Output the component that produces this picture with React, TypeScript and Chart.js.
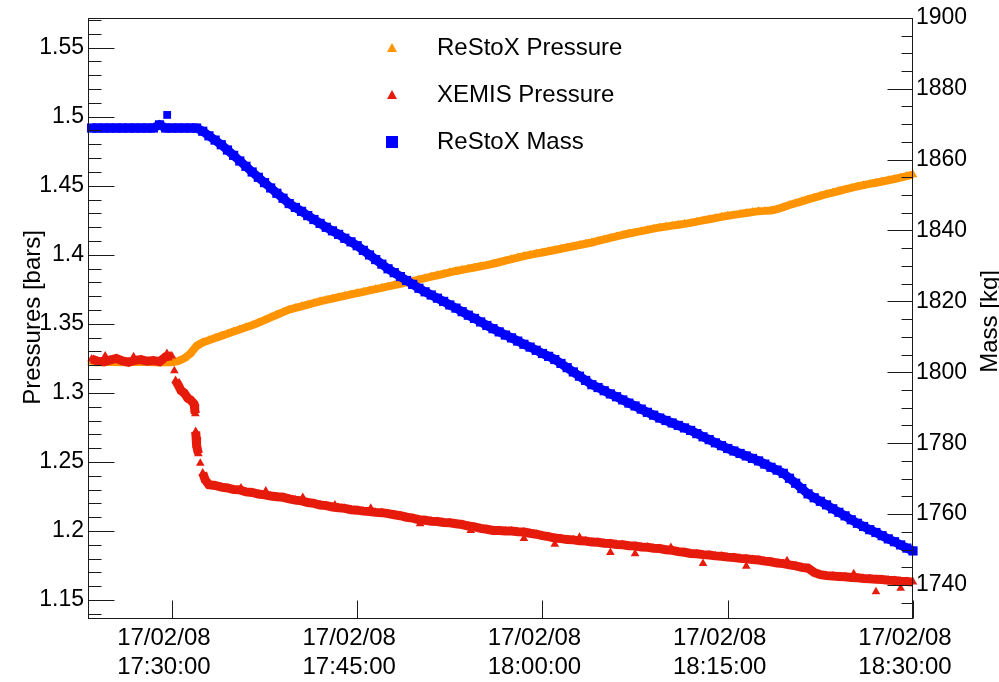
import React, { useEffect, useRef } from 'react';
import { Chart, registerables } from 'chart.js';

Chart.register(...registerables);

// ---------- data ----------
const DATE_LABEL = '17/02/08';
const BASE_HOUR = 17; // x values are minutes after 17:00:00
const SAMPLE_START = 23.5; // first logged sample (minutes after 17:00)
const SAMPLE_STEP = 0.5; // minutes between logged samples

const xTickMinutes = [30, 45, 60, 75, 90];
const xRange = [23.21, 90];

const pressureTicks = [1.15, 1.2, 1.25, 1.3, 1.35, 1.4, 1.45, 1.5, 1.55];
const pressureRange = [1.1363, 1.5716];
const massTicks = [1740, 1760, 1780, 1800, 1820, 1840, 1860, 1880, 1900];
const massRange = [1730.4, 1900];

const seriesLabels = ['ReStoX Pressure', 'XEMIS Pressure', 'ReStoX Mass'];
const pressureTitle = 'Pressures [bars]';
const massTitle = 'Mass [kg]';

// ReStoX pressure [bars]
const restoxPressure = [
  1.3223, 1.3222, 1.3224, 1.3223, 1.3224, 1.3222, 1.3224, 1.3223, 1.3224, 1.3223,
  1.3222, 1.3221, 1.3222, 1.3222, 1.3230, 1.3250, 1.3285, 1.3340, 1.3365, 1.3381,
  1.3397, 1.3413, 1.3428, 1.3444, 1.3459, 1.3475, 1.3490, 1.3508, 1.3527, 1.3547,
  1.3566, 1.3585, 1.3603, 1.3615, 1.3627, 1.3639, 1.3651, 1.3663, 1.3673, 1.3683,
  1.3693, 1.3703, 1.3713, 1.3723, 1.3732, 1.3742, 1.3752, 1.3761, 1.3771, 1.3781,
  1.3790, 1.3800, 1.3810, 1.3821, 1.3831, 1.3842, 1.3852, 1.3862, 1.3873, 1.3883,
  1.3891, 1.3900, 1.3908, 1.3917, 1.3925, 1.3935, 1.3946, 1.3957, 1.3968, 1.3980,
  1.3991, 1.4000, 1.4009, 1.4017, 1.4026, 1.4035, 1.4044, 1.4053, 1.4062, 1.4071,
  1.4080, 1.4089, 1.4100, 1.4111, 1.4122, 1.4133, 1.4144, 1.4154, 1.4162, 1.4171,
  1.4180, 1.4189, 1.4198, 1.4204, 1.4211, 1.4218, 1.4224, 1.4231, 1.4240, 1.4249,
  1.4257, 1.4266, 1.4275, 1.4283, 1.4289, 1.4296, 1.4303, 1.4309, 1.4316, 1.4318,
  1.4321, 1.4330, 1.4345, 1.4360, 1.4374, 1.4387, 1.4401, 1.4414, 1.4427, 1.4440,
  1.4451, 1.4462, 1.4473, 1.4484, 1.4495, 1.4504, 1.4513, 1.4522, 1.4531, 1.4540,
  1.4549, 1.4559, 1.4570, 1.4580,
];

// XEMIS pressure [bars]
const xemisPressure = [
  1.3245, 1.3230, 1.3225, 1.3238, 1.3250, 1.3232, 1.3222, 1.3236, 1.3241, 1.3229,
  1.3235, 1.3226, 1.3262, 1.3268, 1.3060, 1.3000, 1.2950, 1.2620, 1.2420, 1.2335,
  1.2330, 1.2318, 1.2312, 1.2300, 1.2298, 1.2283, 1.2279, 1.2268, 1.2262, 1.2254,
  1.2248, 1.2244, 1.2233, 1.2224, 1.2218, 1.2206, 1.2200, 1.2188, 1.2184, 1.2174,
  1.2168, 1.2164, 1.2154, 1.2151, 1.2144, 1.2141, 1.2135, 1.2133, 1.2126, 1.2118,
  1.2111, 1.2100, 1.2093, 1.2082, 1.2078, 1.2071, 1.2069, 1.2062, 1.2060, 1.2053,
  1.2047, 1.2036, 1.2030, 1.2019, 1.2013, 1.2004, 1.2004, 1.2000, 1.2000, 1.1995,
  1.1993, 1.1984, 1.1977, 1.1967, 1.1960, 1.1949, 1.1945, 1.1938, 1.1936, 1.1929,
  1.1927, 1.1920, 1.1918, 1.1911, 1.1909, 1.1902, 1.1900, 1.1894, 1.1891, 1.1885,
  1.1882, 1.1876, 1.1873, 1.1864, 1.1860, 1.1851, 1.1846, 1.1837, 1.1835, 1.1829,
  1.1826, 1.1820, 1.1817, 1.1811, 1.1808, 1.1802, 1.1799, 1.1793, 1.1790, 1.1782,
  1.1777, 1.1768, 1.1764, 1.1755, 1.1748, 1.1737, 1.1731, 1.1700, 1.1684, 1.1677,
  1.1675, 1.1670, 1.1669, 1.1663, 1.1662, 1.1657, 1.1655, 1.1650, 1.1649, 1.1643,
  1.1642, 1.1637, 1.1635, 1.1630,
];

// extra XEMIS samples logged during the fast pressure drop
const xemisTransientTimes = [30.2, 30.3, 30.75, 31.3, 31.8, 31.85, 31.9, 31.93, 31.96, 32.15, 32.3, 32.7];
const xemisTransientValues = [1.316, 1.309, 1.3016, 1.296, 1.292, 1.288, 1.285, 1.272, 1.268, 1.256, 1.249, 1.237];

// isolated XEMIS readings off the main trend
const xemisOutlierTimes = [24.6, 26.9, 29.6, 35.6, 37.6, 40.6, 43.2, 46.1, 50.1, 54.2, 58.5, 61.0, 63.0, 65.5, 67.5, 70.4, 73.0, 76.5, 79.8, 85.2, 87.0, 89.0];
const xemisOutlierValues = [1.3268, 1.3262, 1.3285, 1.2312, 1.2290, 1.2243, 1.2188, 1.2165, 1.2052, 1.2003, 1.1945, 1.1905, 1.1955, 1.1845, 1.1835, 1.1880, 1.1765, 1.1745, 1.1785, 1.1690, 1.1560, 1.1585];

// ReStoX mass [kg]
const restoxMass = [
  1868.9, 1868.9, 1868.9, 1868.9, 1868.9, 1868.9, 1868.9, 1868.9, 1868.9, 1868.9,
  1868.9, 1869.8, 1868.9, 1868.9, 1868.9, 1868.9, 1868.9, 1868.9, 1868.0, 1866.7,
  1865.5, 1864.2, 1862.7, 1861.2, 1859.6, 1858.1, 1856.5, 1855.0, 1853.5, 1852.0,
  1850.5, 1849.1, 1847.6, 1846.5, 1845.4, 1844.2, 1843.1, 1842.0, 1840.9, 1839.9,
  1838.9, 1837.8, 1836.8, 1835.7, 1834.4, 1833.1, 1831.8, 1830.5, 1829.2, 1828.1,
  1827.0, 1825.9, 1824.8, 1823.7, 1822.7, 1821.8, 1820.9, 1820.0, 1819.0, 1818.1,
  1817.1, 1816.1, 1815.2, 1814.2, 1813.2, 1812.3, 1811.4, 1810.5, 1809.7, 1808.8,
  1807.9, 1807.1, 1806.2, 1805.3, 1804.5, 1803.6, 1802.5, 1801.3, 1800.1, 1798.9,
  1797.7, 1796.5, 1795.7, 1794.8, 1793.9, 1793.1, 1792.2, 1791.3, 1790.5, 1789.6,
  1788.7, 1787.9, 1787.1, 1786.4, 1785.7, 1785.0, 1784.3, 1783.6, 1782.7, 1781.8,
  1781.0, 1780.1, 1779.3, 1778.5, 1777.8, 1777.1, 1776.4, 1775.7, 1775.0, 1774.1,
  1773.2, 1772.4, 1771.5, 1770.1, 1768.7, 1767.2, 1765.7, 1764.6, 1763.6, 1762.6,
  1761.5, 1760.5, 1759.5, 1758.4, 1757.4, 1756.5, 1755.6, 1754.8, 1753.9, 1753.0,
  1752.2, 1751.3, 1750.4, 1749.6,
];

// isolated mass reading above the plateau
const massOutlierTimes = [29.62];
const massOutlierValues = [1872.6];

// ---------- style ----------
const FONT = '"Liberation Sans", Arial, Helvetica, sans-serif';
const ORANGE = '#FF9400';
const RED = '#E61B0C';
const BLUE = '#0000FF';
const AXIS = '#1a1a1a';
const PRESSURE_MINOR = 0.01;
const MASS_MINOR = 5;
const MAX_JOIN_PX = 9; // samples further apart vertically are not joined

const pad2 = (n: number) => String(n).padStart(2, '0');
const fmtTime = (v: number) => {
  const totalSec = Math.round(v * 60);
  const h = BASE_HOUR + Math.floor(totalSec / 3600);
  const m = Math.floor((totalSec % 3600) / 60);
  const s = totalSec % 60;
  return `${pad2(h)}:${pad2(m)}:${pad2(s)}`;
};

const decorPlugin = {
  id: 'decor',
  afterDraw(chart: any) {
    const { ctx, chartArea: a, scales } = chart;
    const L = Math.round(a.left) + 0.5;
    const R = Math.round(a.right) - 0.5;
    const T = Math.round(a.top) + 0.5;
    const B = Math.round(a.bottom) - 0.5;
    ctx.save();
    ctx.strokeStyle = AXIS;
    ctx.lineWidth = 1;
    ctx.strokeRect(L, T, R - L, B - T);
    const line = (x1: number, y1: number, x2: number, y2: number) => {
      ctx.beginPath();
      ctx.moveTo(x1, y1);
      ctx.lineTo(x2, y2);
      ctx.stroke();
    };
    const ys = scales.y;
    const ym = scales.y1;
    const xs = scales.x;
    const k0 = Math.ceil(pressureRange[0] / PRESSURE_MINOR - 1e-6);
    for (let k = k0; k * PRESSURE_MINOR <= pressureRange[1] + 1e-9; k++) {
      const py = Math.round(ys.getPixelForValue(k * PRESSURE_MINOR)) + 0.5;
      line(L, py, L + (k % 5 === 0 ? 26 : 13), py);
    }
    const m0 = Math.ceil(massRange[0] / MASS_MINOR - 1e-6);
    for (let k = m0; k * MASS_MINOR <= massRange[1] + 1e-9; k++) {
      const py = Math.round(ym.getPixelForValue(k * MASS_MINOR)) + 0.5;
      line(R, py, R - (k % 4 === 0 ? 25 : 11), py);
    }
    xTickMinutes.forEach((v) => {
      const px = Math.round(xs.getPixelForValue(v)) + 0.5;
      line(px, B, px, B - 18);
    });

    ctx.fillStyle = '#000';
    ctx.font = `24px ${FONT}`;
    ctx.textAlign = 'center';
    ctx.textBaseline = 'alphabetic';
    ctx.save();
    ctx.translate(40, (a.top + a.bottom) / 2 - 1);
    ctx.rotate(-Math.PI / 2);
    ctx.fillText(pressureTitle, 0, 0);
    ctx.restore();
    ctx.save();
    ctx.translate(997, (a.top + a.bottom) / 2 + 3);
    ctx.rotate(-Math.PI / 2);
    ctx.fillText(massTitle, 0, 0);
    ctx.restore();

    const rowsY = [48, 95, 142];
    chart.data.datasets
      .filter((ds: any) => seriesLabels.includes(ds.label))
      .forEach((ds: any, i: number) => {
        const cy = rowsY[i];
        const cx = 392;
        ctx.fillStyle = ds.backgroundColor;
        if (ds.pointStyle === 'triangle') {
          ctx.beginPath();
          ctx.moveTo(cx, cy - 5);
          ctx.lineTo(cx + 5, cy + 4);
          ctx.lineTo(cx - 5, cy + 4);
          ctx.closePath();
          ctx.fill();
        } else {
          ctx.fillRect(cx - 6, cy - 6, 12, 12);
        }
        ctx.fillStyle = '#000';
        ctx.font = `24px ${FONT}`;
        ctx.textAlign = 'left';
        ctx.textBaseline = 'middle';
        ctx.fillText(ds.label, 437, cy);
      });
    ctx.restore();
  },
};

export default function App() {
  const ref = useRef<HTMLCanvasElement>(null);

  useEffect(() => {
    document.body.style.margin = '0';
    const canvas = ref.current;
    if (!canvas) return;
    const sampleTimes = restoxPressure.map((_, i) => SAMPLE_START + i * SAMPLE_STEP);
    const toPoints = (vals: number[]) => vals.map((v, i) => ({ x: sampleTimes[i], y: v }));
    const pairs = (ts: number[], vs: number[]) => ts.map((t, i) => ({ x: t, y: vs[i] }));
    const xemisPoints = toPoints(xemisPressure)
      .concat(pairs(xemisTransientTimes, xemisTransientValues))
      .sort((p, q) => p.x - q.x);

    const segment = {
      borderColor: (c: any) =>
        Math.abs(c.p1.y - c.p0.y) > MAX_JOIN_PX ? 'rgba(0,0,0,0)' : undefined,
    };
    const base = { showLine: true, tension: 0, clip: false, pointBorderWidth: 0, segment, borderCapStyle: 'butt' };
    const dots = { showLine: false, clip: false, pointBorderWidth: 0, borderWidth: 0 };

    const chart = new Chart(canvas, {
      type: 'scatter',
      data: {
        datasets: [
          {
            ...base,
            borderWidth: 8,
            label: seriesLabels[0],
            data: toPoints(restoxPressure),
            yAxisID: 'y',
            pointStyle: 'triangle',
            pointRadius: 5,
            backgroundColor: ORANGE,
            borderColor: ORANGE,
            order: 3,
          },
          {
            ...base,
            borderWidth: 9,
            label: seriesLabels[1],
            data: xemisPoints,
            yAxisID: 'y',
            pointStyle: 'triangle',
            pointRadius: 5,
            backgroundColor: RED,
            borderColor: RED,
            order: 2,
          },
          {
            ...base,
            borderWidth: 9,
            label: seriesLabels[2],
            data: toPoints(restoxMass),
            yAxisID: 'y1',
            pointStyle: 'rect',
            pointRadius: 6.5,
            backgroundColor: BLUE,
            borderColor: BLUE,
            order: 0,
          },
          {
            ...dots,
            label: '',
            data: pairs(xemisOutlierTimes, xemisOutlierValues),
            yAxisID: 'y',
            pointStyle: 'triangle',
            pointRadius: 5,
            backgroundColor: RED,
            borderColor: RED,
            order: 1,
          },
          {
            ...dots,
            label: '',
            data: pairs(massOutlierTimes, massOutlierValues),
            yAxisID: 'y1',
            pointStyle: 'rect',
            pointRadius: 5.5,
            backgroundColor: BLUE,
            borderColor: BLUE,
            order: 0,
          },
        ],
      } as any,
      options: {
        responsive: false,
        animation: false,
        devicePixelRatio: 1,
        events: [],
        layout: { padding: { top: 16, left: 0, right: 0, bottom: 0 } },
        plugins: { legend: { display: false }, tooltip: { enabled: false } },
        scales: {
          x: {
            type: 'linear',
            position: 'bottom',
            min: xRange[0],
            max: xRange[1],
            grid: { display: false, drawTicks: false, tickLength: 0 },
            border: { display: false },
            afterBuildTicks: (axis: any) => {
              axis.ticks = xTickMinutes.map((v) => ({ value: v }));
            },
            afterFit: (axis: any) => {
              axis.height = 63;
            },
            ticks: {
              autoSkip: false,
              maxRotation: 0,
              minRotation: 0,
              padding: 5,
              labelOffset: -8,
              color: '#000',
              font: { family: FONT, size: 24, lineHeight: 1.2 },
              callback: (v: any) => [DATE_LABEL, fmtTime(Number(v))],
            },
          },
          y: {
            type: 'linear',
            position: 'left',
            min: pressureRange[0],
            max: pressureRange[1],
            grid: { display: false, drawTicks: false, tickLength: 0 },
            border: { display: false },
            afterBuildTicks: (axis: any) => {
              axis.ticks = pressureTicks.map((v) => ({ value: v }));
            },
            afterFit: (axis: any) => {
              axis.width = 88;
            },
            ticks: {
              autoSkip: false,
              padding: 4,
              color: '#000',
              font: { family: FONT, size: 23 },
              callback: (v: any) => String(parseFloat(Number(v).toFixed(2))),
            },
          },
          y1: {
            type: 'linear',
            position: 'right',
            min: massRange[0],
            max: massRange[1],
            grid: { display: false, drawTicks: false, tickLength: 0 },
            border: { display: false },
            afterBuildTicks: (axis: any) => {
              axis.ticks = massTicks.map((v) => ({ value: v }));
            },
            afterFit: (axis: any) => {
              axis.width = 86;
            },
            ticks: {
              autoSkip: false,
              padding: 3,
              color: '#000',
              font: { family: FONT, size: 23 },
              callback: (v: any) => String(Math.round(Number(v))),
            },
          },
        },
      } as any,
      plugins: [decorPlugin],
    });
    return () => chart.destroy();
  }, []);

  return (
    <canvas
      ref={ref}
      width={999}
      height={682}
      style={{ display: 'block', width: 999, height: 682 }}
    />
  );
}
